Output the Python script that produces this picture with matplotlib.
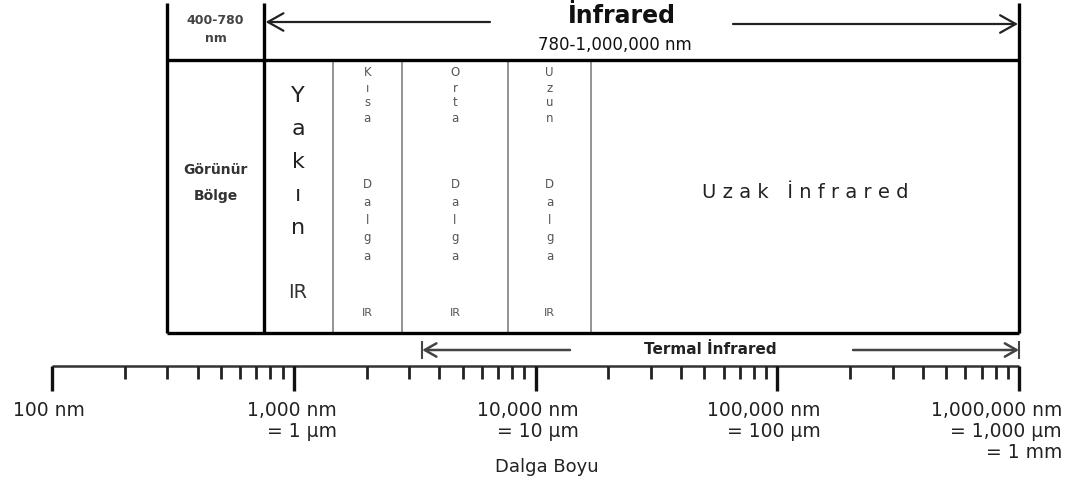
import numpy as np
import matplotlib.pyplot as plt
from matplotlib.transforms import blended_transform_factory

plt.rcParams['font.family'] = ['DejaVu Sans']

# wavelength scale (nm)
decades = [100, 1_000, 10_000, 100_000, 1_000_000]
decade_labels = ['100 nm', '1,000 nm\n= 1 µm', '10,000 nm\n= 10 µm',
                 '100,000 nm\n= 100 µm', '1,000,000 nm\n= 1,000 µm\n= 1 mm']
minor_mult = [2, 3, 4, 5, 6, 7, 8, 9]

# band edges as drawn in the diagram (nm)
table_left = 300
visible_edge = 750
band_edges = [750, 1450, 2800, 7700, 17000, 1_000_000]
narrow_bands = [('Kısa', 'Dalga'), ('Orta', 'Dalga'), ('Uzun', 'Dalga')]
thermal_range = (3400, 1_000_000)

W, H = 1074, 488
fig = plt.figure(figsize=(W / 100, H / 100), dpi=100)
ax = fig.add_axes([0, 0, 1, 1])
ax.set_xscale('log')
# 100 nm sits at x=52 px, 1e6 nm at x=1019 px
ppd = (1019 - 52) / 4
ax.set_xlim(10 ** (2 - 52 / ppd), 10 ** (6 + (W - 1019) / ppd))
ax.set_ylim(H, 0)
ax.axis('off')

# x in figure px, y in data px
tb = blended_transform_factory(ax.transAxes, ax.transData)
def fx(px):
    return px / W

def gmean(a, b):
    return np.sqrt(a * b)

# ---- table frame ----
right = band_edges[-1]
ax.vlines([table_left, visible_edge, right], 3, 333, color='black', lw=2.4, zorder=3)
ax.hlines([60, 333], table_left, right, color='black', lw=2.4, zorder=3)
ax.vlines(band_edges[1:-1], 60, 333, color='#808080', lw=1.2, zorder=2)

# ---- top header ----
ax.text(gmean(table_left, visible_edge), 20, '400-780', ha='center', va='center',
        fontsize=9, fontweight='bold', color='#444')
ax.text(gmean(table_left, visible_edge), 38, 'nm', ha='center', va='center',
        fontsize=9, fontweight='bold', color='#444')
ax.text(fx(622), 16, 'İnfrared', transform=tb, ha='center', va='center',
        fontsize=17, fontweight='bold', color='#111')
ax.text(fx(615), 45, '780-1,000,000 nm', transform=tb, ha='center', va='center',
        fontsize=12, color='#111')

arrow_top = dict(arrowstyle='->,head_length=0.8,head_width=0.45', lw=1.6,
                 color='#222', shrinkA=0, shrinkB=0, mutation_scale=14)
ax.annotate('', xy=(visible_edge * 1.02, 22), xycoords='data',
            xytext=(fx(490), 22), textcoords=tb, arrowprops=arrow_top)
ax.annotate('', xy=(right * 0.99, 24), xycoords='data',
            xytext=(fx(733), 24), textcoords=tb, arrowprops=arrow_top)

# ---- visible column ----
ax.text(gmean(table_left, visible_edge), 170, 'Görünür', ha='center', va='center',
        fontsize=10, fontweight='bold', color='#333')
ax.text(gmean(table_left, visible_edge), 196, 'Bölge', ha='center', va='center',
        fontsize=10, fontweight='bold', color='#333')

# ---- Yakın IR ----
xc = gmean(band_edges[0], band_edges[1])
for i, ch in enumerate('Yakın'):
    ax.text(xc, 96 + 33 * i, ch, ha='center', va='center', fontsize=16, color='#222')
ax.text(xc, 292, 'IR', ha='center', va='center', fontsize=14, color='#333')

# ---- narrow bands ----
for k, (w1, w2) in enumerate(narrow_bands):
    xc = gmean(band_edges[k + 1], band_edges[k + 2])
    for i, ch in enumerate(w1):
        ax.text(xc, 73 + 15 * i, ch, ha='center', va='center', fontsize=8.5, color='#555')
    for i, ch in enumerate(w2):
        ax.text(xc, 184 + 18 * i, ch, ha='center', va='center', fontsize=8.5, color='#555')
    ax.text(xc, 313, 'IR', ha='center', va='center', fontsize=8, color='#555')

# ---- Uzak İnfrared ----
ax.text(gmean(band_edges[-2], band_edges[-1]), 193, 'U z a k   İ n f r a r e d',
        ha='center', va='center', fontsize=14, color='#222')

# ---- thermal IR ----
arrow_th = dict(arrowstyle='->,head_length=0.7,head_width=0.4', lw=1.8,
                color='#444', shrinkA=0, shrinkB=0, mutation_scale=12)
ax.annotate('', xy=(thermal_range[0], 350), xycoords='data',
            xytext=(fx(570), 350), textcoords=tb, arrowprops=arrow_th)
ax.annotate('', xy=(thermal_range[1], 350), xycoords='data',
            xytext=(fx(853), 350), textcoords=tb, arrowprops=arrow_th)
ax.vlines(thermal_range, 341, 359, color='#444', lw=1.5)
ax.text(fx(710), 349, 'Termal İnfrared', transform=tb, ha='center', va='center',
        fontsize=11, fontweight='bold', color='#222')

# ---- wavelength axis ----
ax.hlines(366, decades[0], decades[-1], color='#333', lw=1.8)
ax.vlines(decades, 366, 391, color='#111', lw=2.4)
minor = [m * d for d in decades[:-1] for m in minor_mult]
ax.vlines(minor, 366, 379, color='#222', lw=2)

for i, (d, lab) in enumerate(zip(decades, decade_labels)):
    if i == 0:
        off, ha = -2, 'center'
    else:
        off, ha = 31, 'right'
    ax.annotate(lab, xy=(d, 401), xytext=(off, 0), textcoords='offset points',
                ha=ha, va='top', multialignment='right', fontsize=13.5,
                color='#222', linespacing=1.15)

ax.text(fx(547), 467, 'Dalga Boyu', transform=tb, ha='center', va='center',
        fontsize=13, color='#222')

fig.savefig('out.png', dpi=100)
